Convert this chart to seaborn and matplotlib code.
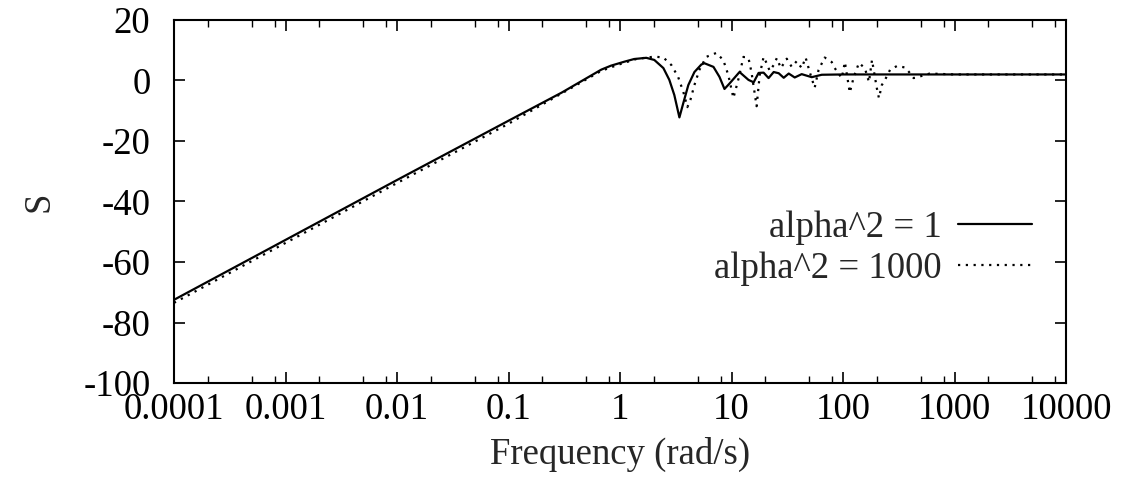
import numpy as np
import pandas as pd
import matplotlib
matplotlib.use("Agg")
import matplotlib.pyplot as plt
import seaborn as sns
from matplotlib.ticker import LogLocator, NullFormatter, FixedLocator

sns.set_style("ticks")
plt.rcParams['font.family'] = ['Liberation Serif', 'DejaVu Serif']
plt.rcParams['mathtext.fontset'] = 'stix'

# --- data (frequency in rad/s, S in dB) ---
freq_a1 = [1e-4, 1e-3, 1e-2, 0.1, 0.3, 0.68, 0.83, 1.09, 1.34, 1.72, 2.03, 2.45,
           2.77, 3.07, 3.41, 3.70, 4.10, 4.65, 5.37, 5.72, 6.89, 7.80, 8.65, 9.60,
           11.8, 14.2, 15.8, 17.5, 19.4, 21.5, 23.9, 26.5, 29.4, 32.6, 36.9, 42.6,
           52.4, 64.5, 100, 1000, 10000]
s_a1 = [-72.5, -52.7, -32.9, -13.3, -4.0, 3.6, 4.9, 6.2, 7.1, 7.5, 6.8, 4.1,
        0.2, -4.8, -12.2, -7.4, -1.5, 2.8, 5.3, 5.7, 4.5, 1.2, -2.8, -1.0,
        2.8, 0.2, -0.6, 2.5, 2.6, 0.8, 2.8, 2.4, 0.9, 2.3, 1.0, 2.1,
        1.1, 1.9, 2.0, 2.0, 2.0]

freq_a1000 = [1e-4, 1e-3, 1e-2, 0.1, 0.68, 0.98, 1.40, 2.03, 2.45, 2.89, 3.32,
              3.70, 4.02, 4.28, 4.65, 5.15, 5.93, 7.30, 8.43, 9.36, 10.4, 11.6,
              12.8, 14.2, 15.1, 16.8, 17.9, 19.4, 20.6, 22.0, 23.9, 25.5, 27.7,
              31.3, 34.7, 38.5, 42.6, 46.2, 50.3, 55.7, 60.4, 68.5, 79.2, 84.3,
              97.5, 104, 115, 125, 139, 157, 171, 182, 201, 210, 223, 238, 264,
              305, 360, 391, 430, 475, 600, 1000, 10000]
s_a1000 = [-73.5, -53.7, -33.9, -14.3, 3.2, 5.3, 7.1, 7.9, 7.6, 5.1, 1.2,
           -3.8, -8.8, -6.4, -1.5, 3.5, 7.8, 9.1, 6.8, 1.8, -5.8, 0.8,
           7.8, 7.4, 2.8, -8.5, 1.8, 7.8, 5.8, 3.2, 5.1, 7.4, 4.1,
           7.2, 4.5, 6.4, 4.1, 7.6, 2.8, -2.4, 3.5, 7.6, 6.1, 4.1,
           0.8, 6.1, -4.0, 1.2, 5.8, 4.1, -0.5, 6.8, -2.5, -5.8, -1.5, 0.2, 3.5,
           4.8, 4.3, 2.8, 0.8, 1.2, 2.3, 2.0, 2.0]

labels = ["alpha^2 = 1", "alpha^2 = 1000"]
xticks = [1e-4, 1e-3, 1e-2, 1e-1, 1, 10, 100, 1000, 10000]
xticklabels = ["0.0001", "0.001", "0.01", "0.1", "1", "10", "100", "1000", "10000"]
yticks = [20, 0, -20, -40, -60, -80, -100]

df1 = pd.DataFrame({"freq": freq_a1, "S": s_a1})
df2 = pd.DataFrame({"freq": freq_a1000, "S": s_a1000})

fig = plt.figure(figsize=(11.3, 4.9), dpi=100)
ax = fig.add_axes([174 / 1130, 1 - 383 / 490, (1066 - 174) / 1130, (383 - 20) / 490])

sns.lineplot(data=df1, x="freq", y="S", ax=ax, color="black", linewidth=1.6,
             linestyle="-", label=labels[0], estimator=None, sort=False)
sns.lineplot(data=df2, x="freq", y="S", ax=ax, color="black", linewidth=1.6,
             linestyle=(0, (1, 2.5)), label=labels[1], estimator=None, sort=False)

ax.set_xscale("log")
ax.set_xlim(1e-4, 1e4)
ax.set_ylim(-100, 20)
ax.xaxis.set_major_locator(FixedLocator(xticks))
ax.set_xticklabels(xticklabels)
ax.xaxis.set_minor_locator(LogLocator(base=10, subs=(2.0, 5.0, 8.0), numticks=20))
ax.xaxis.set_minor_formatter(NullFormatter())
ax.set_yticks(yticks)
ax.set_yticklabels([str(v) for v in yticks])

fs = 26.5
ax.tick_params(axis="both", which="both", direction="in", top=True, right=True,
               labelsize=fs, colors="black")
ax.tick_params(which="major", length=8, width=1.2)
ax.tick_params(which="minor", length=5, width=1.0)
ax.tick_params(axis="x", which="major", pad=7)
ax.tick_params(axis="y", which="major", pad=17)
for sp in ax.spines.values():
    sp.set_linewidth(1.5)
    sp.set_color("black")

ax.set_xlabel("Frequency (rad/s)", fontsize=fs, labelpad=7)
ax.set_ylabel("S", fontsize=fs, labelpad=19)
ax.grid(False)

leg = ax.legend(loc="center right", bbox_to_anchor=(0.978, 0.372), frameon=False,
                markerfirst=False, fontsize=fs, handlelength=2.0,
                handletextpad=0.45, labelspacing=0.18, borderaxespad=0)

fig.savefig("out.png", dpi=100, facecolor="white")
